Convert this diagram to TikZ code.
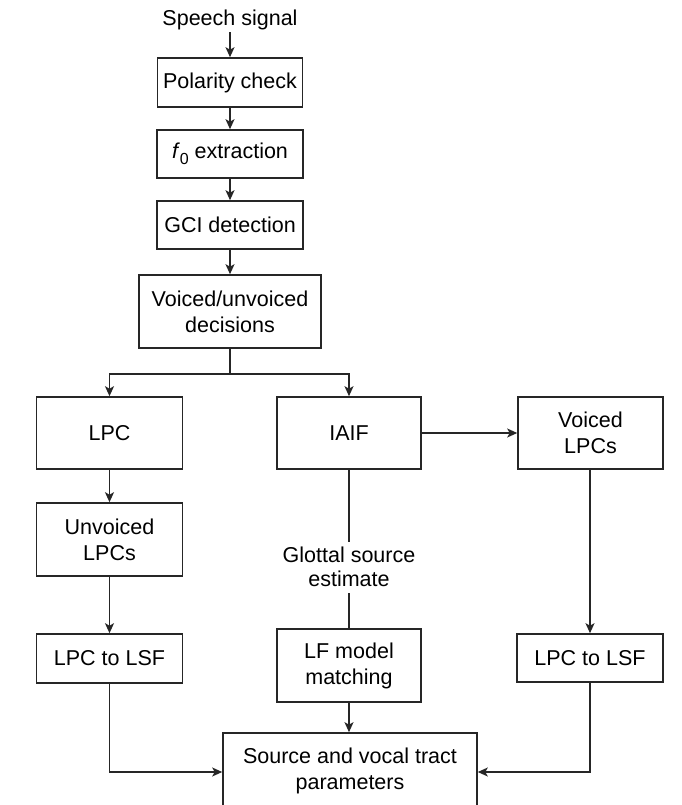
\documentclass[tikz,border=0pt]{standalone}
\usepackage{fontspec}
\setmainfont{Liberation Sans}
\usetikzlibrary{arrows.meta,positioning,calc}

\tikzset{
  every picture/.style={x=1pt,y=-1pt},
  line/.style={draw=black!85,line width=1.6pt},
  arr/.style={line,-{Stealth[length=10pt,width=9pt,inset=2.5pt]}},
  blk/.style={draw=black!85,line width=1.6pt,fill=white,align=center,
    inner sep=0pt,font=\fontsize{21.5}{26}\selectfont},
  lbl/.style={align=center,fill=white,inner sep=2pt,
    font=\fontsize{21.5}{23.5}\selectfont},
}

\begin{document}
\begin{tikzpicture}
\clip (0,0) rectangle (681,805);
\useasboundingbox (0,0) rectangle (681,805);

% main chain
\node[lbl,fill=none] (sig) at (230,20) {Speech signal};
\node[blk,minimum width=145pt,minimum height=49pt] (pol) at (230,82.5) {Polarity check};
\node[blk,minimum width=146pt,minimum height=48pt] (f0) at (230,154)
  {\textit{f}\raisebox{-0.28em}{\fontsize{16}{16}\selectfont 0} extraction};
\node[blk,minimum width=146pt,minimum height=48pt] (gci) at (230,225) {GCI detection};
\node[blk,minimum width=182pt,minimum height=73pt] (vuv) at (230,311.5) {Voiced/unvoiced\\decisions};

% three branches
\node[blk,minimum width=146pt,minimum height=72pt] (lpc) at (109.5,433) {LPC};
\node[blk,minimum width=144pt,minimum height=72pt] (iaif) at (349,433) {IAIF};
\node[blk,minimum width=145pt,minimum height=72pt] (vlpc) at (590.5,433) {Voiced\\LPCs};
\node[blk,minimum width=146pt,minimum height=73pt] (ulpc) at (109.5,539.5) {Unvoiced\\LPCs};
\node[blk,minimum width=146pt,minimum height=49pt] (lsfa) at (109.5,658.5) {LPC to LSF};
\node[blk,minimum width=144pt,minimum height=73pt] (lf) at (349,665.5) {LF model\\matching};
\node[blk,minimum width=146pt,minimum height=48pt] (lsfb) at (590,658) {LPC to LSF};
\node[blk,minimum width=254pt,minimum height=75pt] (src) at (350,770.5)
  {Source and vocal tract\\parameters};

% connectors
\draw[arr] (sig.south) -- (pol.north);
\draw[arr] (pol) -- (f0);
\draw[arr] (f0) -- (gci);
\draw[arr] (gci) -- (vuv);
\draw[line] (vuv.south) -- ++(0,25) coordinate (split);
\draw[arr] (split) -| (lpc.north);
\draw[arr] (split) -| (iaif.north);
\draw[arr] (lpc) -- (ulpc);
\draw[arr] (ulpc) -- (lsfa);
\draw[arr] (iaif) -- (vlpc);
\draw[arr] (vlpc.south -| lsfb.north) -- (lsfb.north);
\draw[line] (iaif.south) -- (lf.north);
\node[lbl,minimum height=51pt] (gse) at (349,567) {Glottal source\\estimate};
\draw[arr] (lf.south) -- (lf.south |- src.north);
\draw[arr] (lsfa.south) |- ([yshift=-1.5pt]src.west);
\draw[arr] (lsfb.south) |- ([yshift=-1.5pt]src.east);
\end{tikzpicture}
\end{document}
